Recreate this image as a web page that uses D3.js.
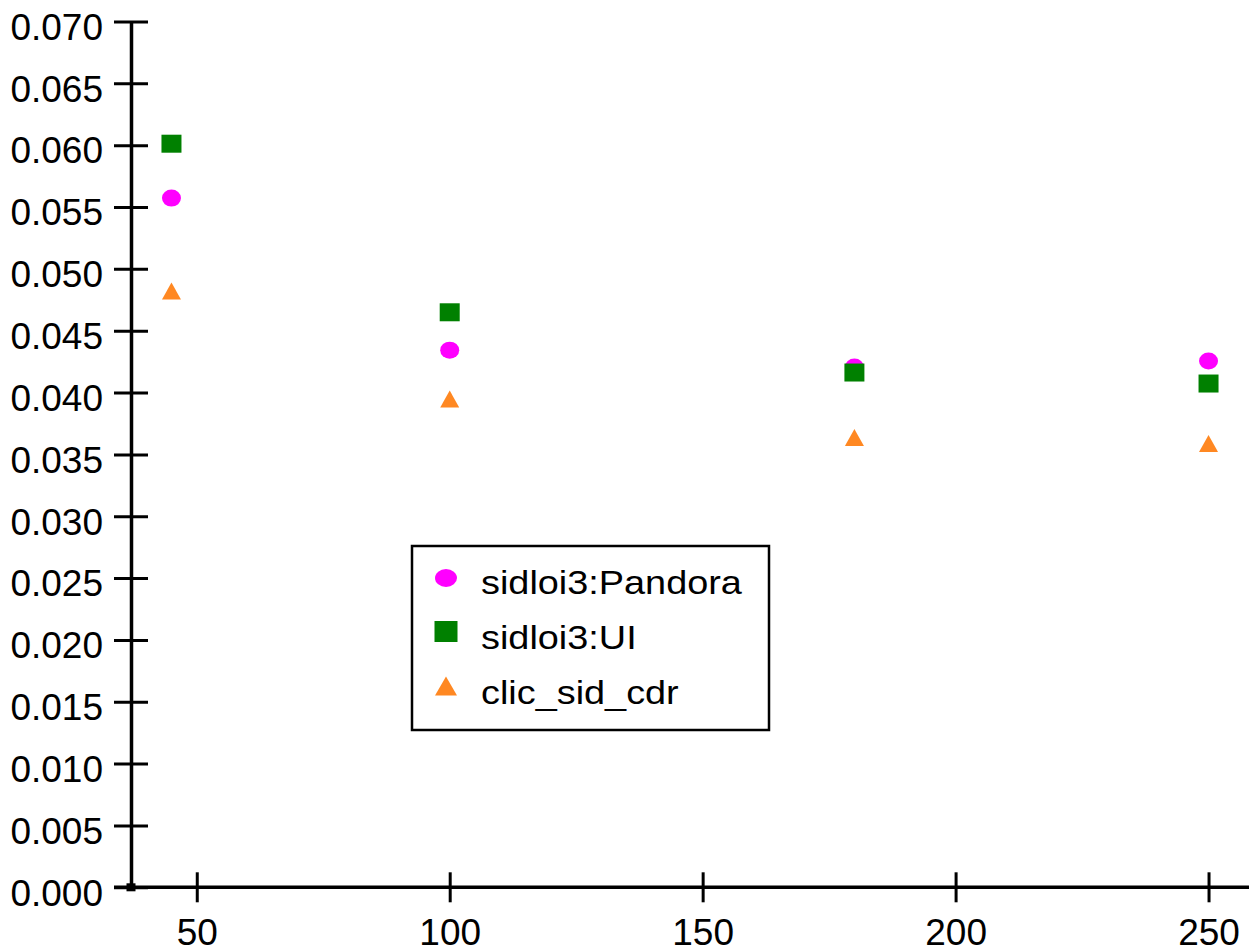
<!DOCTYPE html>
<html>
<head>
<meta charset="utf-8">
<script src="https://cdn.jsdelivr.net/npm/d3@7"></script>
<style>
  body { margin: 0; background: #fff; }
  svg { display: block; font-family: "Liberation Sans", Arial, sans-serif; }
</style>
</head>
<body>
<svg id="chart" width="1249" height="952"></svg>
<script>
// energies on x, values per series
const xValues = [45, 100, 180, 250];
const pandora = [0.05572, 0.04343, 0.04207, 0.04255];
const ui = [0.06012, 0.04649, 0.04162, 0.04073];
const clicCdr = [0.04821, 0.03948, 0.03636, 0.03589];

const xTicks = [50, 100, 150, 200, 250];
const yTicks = [0, 0.005, 0.01, 0.015, 0.02, 0.025, 0.03, 0.035, 0.04, 0.045, 0.05, 0.055, 0.06, 0.065, 0.07];

const seriesNames = ["sidloi3:Pandora", "sidloi3:UI", "clic_sid_cdr"];
const seriesColors = ["#ff00ff", "#008000", "#ff8822"];
const seriesShapes = ["circle", "square", "triangle"];

const svg = d3.select("#chart");

const x = d3.scaleLinear().domain([37, 258]).range([131, 1249]);
const y = d3.scaleLinear().domain([0, 0.07]).range([887.3, 21.5]);

// marker drawing helper
function marker(g, shape, cx, cy, color, w, h) {
  if (shape === "circle") {
    g.append("ellipse").attr("cx", cx).attr("cy", cy)
      .attr("rx", w / 2).attr("ry", h / 2).attr("fill", color);
  } else if (shape === "square") {
    g.append("rect").attr("x", cx - w / 2).attr("y", cy - h / 2)
      .attr("width", w).attr("height", h).attr("fill", color);
  } else {
    g.append("path")
      .attr("d", `M${cx - w / 2},${cy + h / 2}L${cx},${cy - h / 2}L${cx + w / 2},${cy + h / 2}Z`)
      .attr("fill", color);
  }
}

// y axis
const yAxis = svg.append("g")
  .attr("transform", `translate(${x(37)},0)`)
  .call(d3.axisLeft(y).tickValues(yTicks).tickFormat(d3.format(".3f")).tickSize(17).tickSizeOuter(0));
yAxis.select(".domain").attr("stroke", "#000").attr("stroke-width", 3.5);
yAxis.selectAll(".tick line").attr("x1", -17).attr("x2", 17).attr("stroke", "#000").attr("stroke-width", 3);
yAxis.selectAll(".tick text")
  .attr("x", -28).attr("dy", "0.48em")
  .style("font-size", "37px").attr("fill", "#000");

// x axis
const xAxis = svg.append("g")
  .attr("transform", `translate(0,${y(0)})`)
  .call(d3.axisBottom(x).tickValues(xTicks).tickSize(15).tickSizeOuter(0));
xAxis.select(".domain").attr("d", `M114,0H1249`).attr("stroke", "#000").attr("stroke-width", 3.5);
xAxis.selectAll(".tick line").attr("y1", -15).attr("y2", 15).attr("stroke", "#000").attr("stroke-width", 3);
xAxis.selectAll(".tick text")
  .attr("y", 58).attr("dy", 0)
  .style("font-size", "37px").attr("fill", "#000");

// small block at the origin
svg.append("rect")
  .attr("x", x(37) - 4.5).attr("y", y(0) - 4)
  .attr("width", 9).attr("height", 8).attr("fill", "#000");

// data points
const plot = svg.append("g");
[pandora, ui, clicCdr].forEach((vals, i) => {
  vals.forEach((v, j) => {
    const sz = seriesShapes[i] === "square" ? [20, 18] : [19, 17];
    marker(plot, seriesShapes[i], x(xValues[j]), y(v), seriesColors[i], sz[0], sz[1]);
  });
});

// legend
const legend = svg.append("g");
legend.append("rect")
  .attr("x", 412).attr("y", 546).attr("width", 357).attr("height", 184)
  .attr("fill", "#fff").attr("stroke", "#000").attr("stroke-width", 2.5);

const rowY = [578, 631.5, 686];
const baseY = [593.5, 649, 704];
const legendSizes = [[22, 18], [23, 21], [22, 19]];
seriesNames.forEach((name, i) => {
  marker(legend, seriesShapes[i], 446, rowY[i], seriesColors[i], legendSizes[i][0], legendSizes[i][1]);
  legend.append("text")
    .attr("transform", `translate(481,${baseY[i]}) scale(1.165,1)`)
    .style("font-size", "32.5px")
    .attr("fill", "#000")
    .text(name);
});
</script>
</body>
</html>
